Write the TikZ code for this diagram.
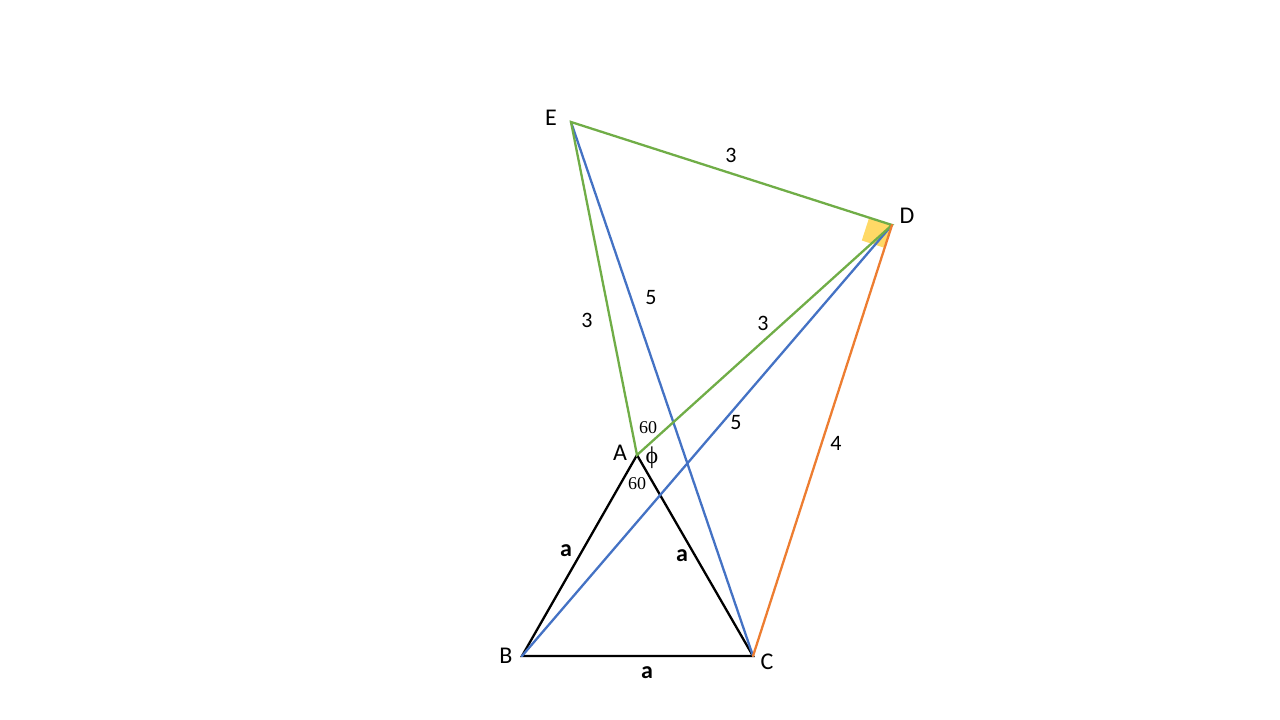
\documentclass[tikz,border=0pt]{standalone}
\usepackage{fontspec}
\setmainfont{Carlito}
\newfontfamily\angfont{Liberation Serif}
\usepackage{tikz}
\usetikzlibrary{calc}
\definecolor{edgegreen}{HTML}{70AD47}
\definecolor{edgeblue}{HTML}{4472C4}
\definecolor{edgeorange}{HTML}{ED7D31}
\definecolor{markyellow}{HTML}{FFD966}
\tikzstyle{side}      = [line width=2.3pt, line cap=round]
\tikzstyle{vlabel}    = [font=\fontsize{24}{27}\selectfont]
\tikzstyle{len}       = [font=\fontsize{22}{25}\selectfont]
\tikzstyle{ang}       = [font=\angfont\fontsize{18}{20}\selectfont]

\begin{document}
\begin{tikzpicture}[x=1pt, y=-1pt]
  \useasboundingbox (0,0) rectangle (1280,720);
  % Points
  \coordinate (E) at (571,122);
  \coordinate (D) at (892,225);
  \coordinate (A) at (637,455);
  \coordinate (B) at (522,656);
  \coordinate (C) at (753,656);
  % Right angle at D
  \coordinate (dE) at ($(D)!24pt!(E)$);
  \coordinate (dC) at ($(D)!24pt!(C)$);
  \fill[markyellow] (D) -- (dE) -- ($(dE)+(dC)-(D)$) -- (dC) -- cycle;
  % Triangle ABC
  \draw[side, black] (A) -- (B) -- (C) -- cycle;
  % Blue diagonals
  \draw[side, edgeblue] (B) -- (D);
  \draw[side, edgeblue] (E) -- (C);
  % Green triangle
  \draw[side, edgegreen] (A) -- (E) -- (D) -- cycle;
  % Orange side
  \draw[side, edgeorange] (D) -- (C);
  % Vertex labels
  \node[vlabel] (labE) at (551,118) {E};
  \node[vlabel] (labD) at (907,216) {D};
  \node[vlabel] (labA) at (620,453) {A};
  \node[vlabel] (labB) at (506,656) {B};
  \node[vlabel] (labC) at (767,662) {C};
  % Lengths
  \node[len] (lenED) at (731,155) {3};
  \node[len] (lenEA) at (587,320) {3};
  \node[len] (lenEC) at (651,298) {5};
  \node[len] (lenAD) at (763,323) {3};
  \node[len] (lenBD) at (736,423) {5};
  \node[len] (lenDC) at (836,443) {4};
  \node[len, font=\fontsize{24}{27}\selectfont] (lenAB) at (566,551) {\bfseries a};
  \node[len, font=\fontsize{24}{27}\selectfont] (lenAC) at (682,556) {\bfseries a};
  \node[len, font=\fontsize{24}{27}\selectfont] (lenBC) at (647,673) {\bfseries a};
  % Angles at A
  \node[ang] (angEAD) at (648,428) {60};
  \node[ang, font=\angfont\fontsize{24}{26}\selectfont] (angphi) at (652,458) {ϕ};
  \node[ang] (angBAC) at (637,484) {60};
\end{tikzpicture}
\end{document}
